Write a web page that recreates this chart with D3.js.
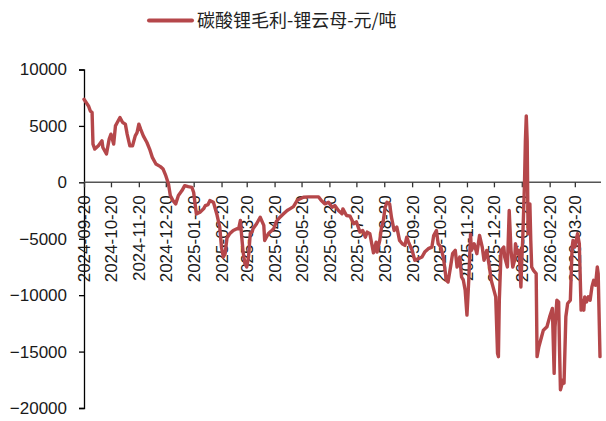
<!DOCTYPE html>
<html>
<head>
<meta charset="utf-8">
<script src="https://cdn.jsdelivr.net/npm/d3@7"></script>
<style>
  body { margin: 0; background: #fff; }
  svg { display: block; }
</style>
</head>
<body>
<svg id="chart" width="606" height="421"></svg>
<script>
// series name
const seriesName = "碳酸锂毛利-锂云母-元/吨";

// dates of the points
const dates = [
  "2024-09-20","2024-09-25","2024-09-27","2024-09-29","2024-09-30","2024-10-02","2024-10-06","2024-10-10",
  "2024-10-11","2024-10-15","2024-10-18","2024-10-20","2024-10-23","2024-10-25","2024-10-27","2024-10-30",
  "2024-11-02","2024-11-05","2024-11-07","2024-11-10","2024-11-13","2024-11-16","2024-11-18","2024-11-20",
  "2024-11-22","2024-11-25","2024-11-29","2024-12-02","2024-12-05","2024-12-09","2024-12-14","2024-12-17",
  "2024-12-20","2024-12-23","2024-12-25","2024-12-28","2024-12-31","2025-01-03","2025-01-07","2025-01-10",
  "2025-01-14","2025-01-18","2025-01-20","2025-01-23","2025-01-27","2025-01-31","2025-02-02","2025-02-05",
  "2025-02-07","2025-02-11","2025-02-15","2025-02-18","2025-02-20","2025-02-22","2025-02-24","2025-02-26",
  "2025-03-01","2025-03-05","2025-03-09","2025-03-11","2025-03-13","2025-03-14","2025-03-16","2025-03-18",
  "2025-03-20","2025-03-22","2025-03-24","2025-03-26","2025-03-27","2025-03-31","2025-04-04","2025-04-08",
  "2025-04-09","2025-04-13","2025-04-15","2025-04-17","2025-04-19","2025-04-22","2025-04-26","2025-04-30",
  "2025-05-04","2025-05-07","2025-05-11","2025-05-15","2025-05-18","2025-05-22","2025-05-28","2025-06-02",
  "2025-06-08","2025-06-11","2025-06-15","2025-06-19","2025-06-23","2025-06-26","2025-06-30","2025-07-04",
  "2025-07-05","2025-07-09","2025-07-13","2025-07-17","2025-07-20","2025-07-24","2025-07-27","2025-07-30",
  "2025-08-01","2025-08-04","2025-08-08","2025-08-11","2025-08-12","2025-08-15","2025-08-17","2025-08-19",
  "2025-08-21","2025-08-23","2025-08-26","2025-08-28","2025-08-31","2025-09-03","2025-09-06","2025-09-09",
  "2025-09-12","2025-09-14","2025-09-16","2025-09-20","2025-09-23","2025-09-27","2025-10-01","2025-10-04",
  "2025-10-08","2025-10-12","2025-10-14","2025-10-17","2025-10-19","2025-10-22","2025-10-25","2025-10-28",
  "2025-10-30","2025-11-02","2025-11-04","2025-11-07","2025-11-09","2025-11-12","2025-11-14","2025-11-16",
  "2025-11-18","2025-11-20","2025-11-22","2025-11-24","2025-11-25","2025-11-28","2025-12-01","2025-12-04",
  "2025-12-07","2025-12-09","2025-12-12","2025-12-15","2025-12-17","2025-12-19","2025-12-22","2025-12-24",
  "2025-12-25","2025-12-26","2025-12-28","2025-12-31","2026-01-01","2026-01-04","2026-01-06","2026-01-08",
  "2026-01-10","2026-01-12","2026-01-13","2026-01-15","2026-01-17","2026-01-19","2026-01-20","2026-01-21",
  "2026-01-23","2026-01-24","2026-01-25","2026-01-26","2026-01-27","2026-01-29","2026-01-30","2026-01-31",
  "2026-02-02","2026-02-05","2026-02-06","2026-02-08","2026-02-11","2026-02-13","2026-02-17","2026-02-20",
  "2026-02-23","2026-02-25","2026-02-26","2026-02-28","2026-03-02","2026-03-03","2026-03-04","2026-03-07",
  "2026-03-08","2026-03-10","2026-03-12","2026-03-15","2026-03-17","2026-03-18","2026-03-20","2026-03-23",
  "2026-03-25","2026-03-27","2026-03-28","2026-03-30","2026-03-31","2026-04-02","2026-04-04","2026-04-06",
  "2026-04-08","2026-04-10","2026-04-12","2026-04-14","2026-04-15","2026-04-17"
];

// gross margin, yuan per tonne
const values = [
  7360, 6770, 6330, 6180, 3390, 2950, 3240, 3680,
  3090, 2510, 3830, 4270, 3390, 5000, 5300, 5740,
  5300, 5160, 4270, 3240, 3240, 4120, 4410, 5160,
  4710, 4120, 3530, 2950, 2210, 1620, 1390, 1180,
  590, -140, -1170, -1620, -1910, -1170, -730, -290,
  -380, -440, -900, -2800, -2650, -2350, -2060, -1970,
  -1620, -1770, -2900, -3970, -5800, -6620, -6320, -4950,
  -4560, -4270, -4120, -4120, -3380, -4410, -6180, -7200,
  -7500, -6620, -4500, -4410, -4120, -3670, -3090, -3820,
  -5150, -4560, -4410, -4270, -4120, -3450, -3090, -2790,
  -2500, -2350, -2150, -1620, -1470, -1320, -1290, -1290,
  -1290, -1620, -1910, -1770, -2210, -2060, -2500, -2790,
  -2350, -2940, -3000, -3670, -3500, -4410, -4270, -4860,
  -4410, -4560, -6250, -5300, -6180, -5150, -3970, -3380,
  -2210, -1770, -1910, -3090, -4270, -3970, -5150, -5440,
  -5590, -4860, -5300, -6030, -6910, -6760, -6620, -6180,
  -5880, -5740, -4710, -4270, -5440, -5740, -6760, -8680,
  -8830, -7360, -6320, -6030, -7500, -6620, -8390, -8680,
  -9560, -11770, -8680, -4600, -6030, -5440, -6320, -4710,
  -5740, -6910, -6030, -7500, -8680, -9270, -10150, -15150,
  -15450, -10450, -6030, -5740, -6620, -7500, -2500, -6030,
  -7500, -6910, -5440, -6320, -6030, -9270, -6910, -5150,
  -140, 3680, 5890, 3680, -4560, -1910, -5150, -7500,
  -7800, -8090, -15450, -14570, -13690, -13100, -12800, -11920,
  -11180, -16930, -12800, -10450, -10600, -14860, -18390, -17510,
  -17800, -11920, -10740, -10450, -5740, -5150, -5740, -4560,
  -5440, -11330, -10450, -11330, -10150, -10600, -10150, -10450,
  -9270, -8680, -9120, -7500, -8090, -15450
];

// axis settings
const yTicks = [10000, 5000, 0, -5000, -10000, -15000, -20000];
const xTickLabels = [
  "2024-09-20","2024-10-20","2024-11-20","2024-12-20","2025-01-20","2025-02-20","2025-03-20",
  "2025-04-20","2025-05-20","2025-06-20","2025-07-20","2025-08-20","2025-09-20","2025-10-20",
  "2025-11-20","2025-12-20","2026-01-20","2026-02-20","2026-03-20"
];

const parse = d3.timeParse("%Y-%m-%d");
const data = dates.map((d, i) => ({date: parse(d), value: values[i]}));

const svg = d3.select("#chart");
const plotLeft = 84, plotRight = 600, plotTop = 69.5, plotBottom = 408;
const lineColor = "#b5474a";

let x = d3.scaleTime()
  .domain([parse(dates[0]), parse(dates[dates.length - 1])])
  .range([plotLeft, plotRight]);

let y = d3.scaleLinear()
  .domain([-20000, 10000])
  .range([plotBottom, plotTop]);

// y axis
let yAxis = svg.append("g").attr("transform", "translate(" + plotLeft + ",0)")
  .call(d3.axisLeft(y).tickValues(yTicks).tickSize(5).tickPadding(12).tickFormat(d3.format("d")));
yAxis.select(".domain").attr("stroke", "#000").attr("stroke-width", 1.3);
yAxis.selectAll(".tick line").attr("stroke", "#000").attr("stroke-width", 1.3);
yAxis.selectAll(".tick text")
  .style("font-family", "'Liberation Sans', Arial, sans-serif")
  .style("font-size", "17px").attr("fill", "#1a1a1a");

// x axis sitting on zero
let xAxis = svg.append("g").attr("transform", "translate(0," + y(0) + ")")
  .call(d3.axisBottom(x).tickValues(xTickLabels.map(parse)).tickSize(5).tickSizeOuter(0)
    .tickFormat(d3.timeFormat("%Y-%m-%d")));
xAxis.select(".domain").attr("stroke", "#555").attr("stroke-width", 1.5)
  .attr("d", "M" + plotLeft + ",0H" + (plotRight + 1));
xAxis.selectAll(".tick line").attr("stroke", "#333").attr("stroke-width", 1.3);
xAxis.selectAll(".tick text")
  .style("font-family", "'Liberation Sans', Arial, sans-serif")
  .style("font-size", "17px").attr("fill", "#1a1a1a")
  .attr("text-anchor", "end")
  .attr("transform", "rotate(-90)")
  .attr("x", -13).attr("y", 0).attr("dy", "0.35em");

// series line
let line = d3.line()
  .x(d => x(d.date))
  .y(d => y(d.value));

svg.append("path").datum(data)
  .attr("d", line)
  .attr("fill", "none")
  .attr("stroke", lineColor)
  .attr("stroke-width", 3.4)
  .attr("stroke-linejoin", "round")
  .attr("stroke-linecap", "round");

// legend
let legend = svg.append("g").attr("class", "legend");
legend.append("line")
  .attr("x1", 149).attr("x2", 192).attr("y1", 20.5).attr("y2", 20.5)
  .attr("stroke", lineColor).attr("stroke-width", 4).attr("stroke-linecap", "round");
legend.append("text")
  .attr("x", 197).attr("y", 27)
  .style("font-family", "'Noto Sans CJK SC', sans-serif")
  .style("font-size", "18px").attr("fill", "#222")
  .text(seriesName);
</script>
</body>
</html>
